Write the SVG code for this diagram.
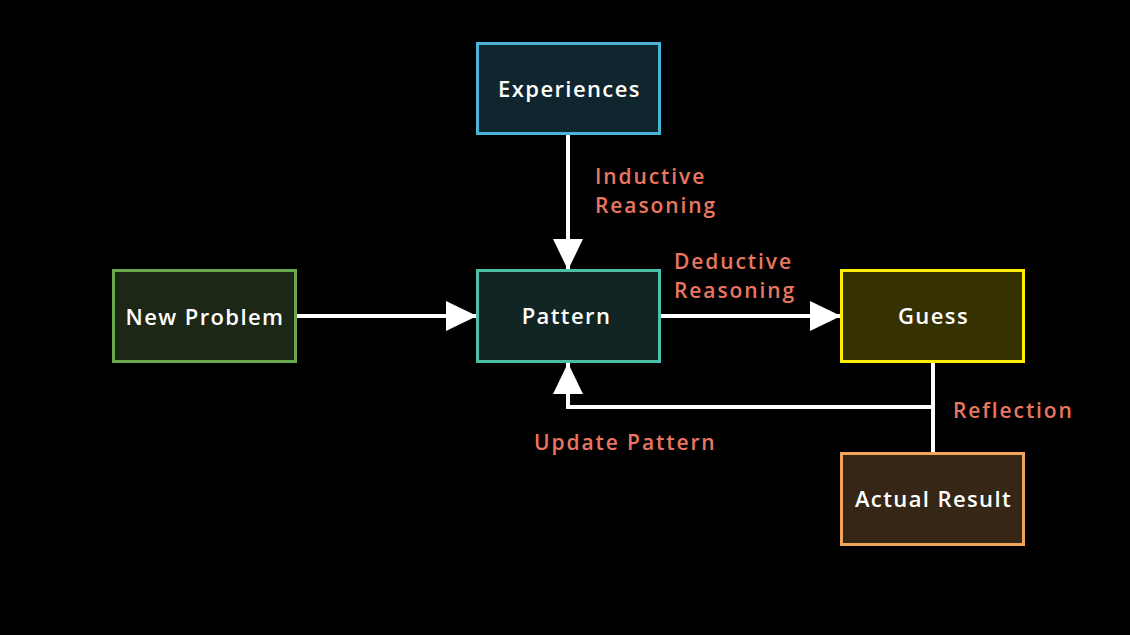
<svg xmlns="http://www.w3.org/2000/svg" width="1130" height="635" viewBox="0 0 1130 635">
<style>
.node rect{stroke-width:3}
.nt{font-family:"Open Sans",Lato,sans-serif;font-size:22px;font-weight:600;letter-spacing:1.4px;fill:#ffffff;text-anchor:middle}
.lb{font-family:"Open Sans",Lato,sans-serif;font-size:21px;font-weight:600;letter-spacing:1.9px;fill:#ea7660}
.ln{stroke:#ffffff;stroke-width:4;fill:none}
</style>
<defs>
<marker id="ah" viewBox="0 0 31 30" refX="31" refY="15" markerWidth="31" markerHeight="30" markerUnits="userSpaceOnUse" orient="auto">
<path d="M0,0 L31,15 L0,30 Z" fill="#ffffff"/>
</marker>
</defs>
<rect width="1130" height="635" fill="#000000"/>
<g id="connectors">
<line class="ln" x1="568" y1="134" x2="568" y2="270" marker-end="url(#ah)"/>
<line class="ln" x1="296" y1="316" x2="477" y2="316" marker-end="url(#ah)"/>
<line class="ln" x1="660" y1="316" x2="841" y2="316" marker-end="url(#ah)"/>
<line class="ln" x1="933" y1="362" x2="933" y2="453"/>
<polyline class="ln" points="933,407 568,407 568,363" marker-end="url(#ah)"/>
<text class="lb" x="595" y="184">Inductive<tspan x="595" dy="29">Reasoning</tspan></text>
<text class="lb" x="674" y="269">Deductive<tspan x="674" dy="29">Reasoning</tspan></text>
<text class="lb" x="953" y="418">Reflection</text>
<text class="lb" x="534" y="450">Update Pattern</text>
</g>
<g id="experiences" class="node">
<rect x="477.5" y="43.5" width="182" height="90" fill="#10252d" stroke="#4ab3d6"/>
<text class="nt" x="569.5" y="97">Experiences</text>
</g>
<g id="new-problem" class="node">
<rect x="113.5" y="270.5" width="182" height="91" fill="#1c2716" stroke="#6aa84f"/>
<text class="nt" x="205" y="325">New Problem</text>
</g>
<g id="pattern" class="node">
<rect x="477.5" y="270.5" width="182" height="91" fill="#112624" stroke="#4dbfa8"/>
<text class="nt" x="566.5" y="324">Pattern</text>
</g>
<g id="guess" class="node">
<rect x="841.5" y="270.5" width="182" height="91" fill="#363100" stroke="#ffee00"/>
<text class="nt" x="933.5" y="324">Guess</text>
</g>
<g id="actual-result" class="node">
<rect x="841.5" y="453.5" width="182" height="91" fill="#352615" stroke="#f0a55c"/>
<text class="nt" x="933.5" y="507">Actual Result</text>
</g>
</svg>
